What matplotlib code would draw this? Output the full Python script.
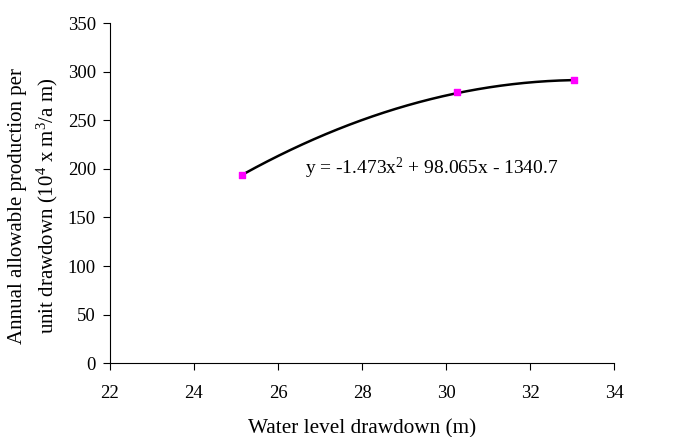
import numpy as np
from matplotlib import pyplot as plt

plt.rcParams['font.family'] = ['Liberation Serif', 'DejaVu Serif']
plt.rcParams['mathtext.fontset'] = 'custom'
plt.rcParams['mathtext.rm'] = 'Liberation Serif'
plt.rcParams['mathtext.it'] = 'Liberation Serif:italic'

# observed points
drawdown = [25.15, 30.25, 33.05]
production = [194, 279, 292]

# trendline coefficients (from the label)
coef = [-1.473, 98.065, -1340.7]

fig = plt.figure(figsize=(6.91, 4.37), dpi=100)
ax = fig.add_axes([0.159, 0.169, 0.730, 0.778])

xs = np.linspace(min(drawdown), max(drawdown), 200)
ax.plot(xs, np.polyval(coef, xs), color='black', lw=1.8, zorder=2)
ax.scatter(drawdown, production, marker='s', s=22, color='#ff00ff', zorder=3)

ax.text(26.65, 200, r'y = -1.473x$^2$ + 98.065x - 1340.7', fontsize=14,
        va='center', ha='left')

ax.set_xlim(22, 34)
ax.set_ylim(0, 350)
ax.set_xticks(np.arange(22, 35, 2))
ax.set_yticks(np.arange(0, 351, 50))
ax.spines['top'].set_visible(False)
ax.spines['right'].set_visible(False)
ax.tick_params(direction='out', length=5, labelsize=13.5)
ax.tick_params(axis='x', pad=11)
ax.tick_params(axis='y', pad=5)

ax.set_xlabel('Water level drawdown (m)', fontsize=15.3, labelpad=12)
ax.set_ylabel('Annual allowable production per\n'
              r'unit drawdown (10$^4$ x m$^3$/a m)', fontsize=15,
              linespacing=1.45)
ax.yaxis.set_label_coords(-0.098, 0.462)

plt.savefig('out.png', dpi=100)
